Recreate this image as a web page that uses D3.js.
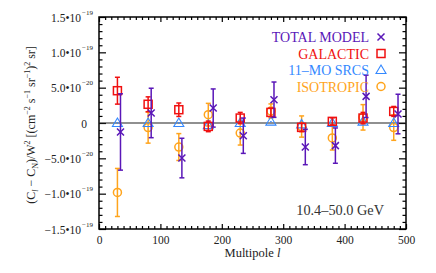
<!DOCTYPE html>
<html>
<head>
<meta charset="utf-8">
<script src="https://cdn.jsdelivr.net/npm/d3@7"></script>
<style>
  body { margin: 0; background: #fff; }
  text { font-family: "Liberation Serif", "DejaVu Serif", serif; }
</style>
</head>
<body>
<script>
// values in units of 1e-20 (cm^-2 s^-1 sr^-1)^2 sr
var UNIT = 1e-20;

var ellTotal = [35, 85, 135, 186, 235, 285, 336, 385, 435, 487];
var ellBin   = [30, 80, 130, 178, 230, 280, 330, 380, 430, 480];

var totalModel = [-1.27, 1.42, -4.96, 2.12, -1.8, 3.3, -3.4, -3.2, 3.77, 1.27];
var totalErr   = [5.4, 3.5, 2.8, 2.7, 2.5, 2.5, 2.5, 2.5, 3.0, 2.8];
var galactic   = [4.57, 2.65, 1.88, -0.48, 0.7, 1.5, -0.62, 0.23, 0.7, 1.64];
var galErr     = [1.9, 1.05, 0.95, 0.75, 0.8, 0.6, 0.6, 0.5, 0.8, 0.7];
var sources    = [0, 0, 0, -0.3, 0, 0.2, -0.2, 0, 0.2, 0];
var srcErr     = [0.1, 0.1, 0.1, 0.1, 0.1, 0.1, 0.1, 0.1, 0.1, 0.1];
var isotropic  = [-9.83, -0.65, -3.4, 1.18, -1.42, 1.7, -0.5, -2.12, 0.8, -0.65];
var isoErr     = [3.4, 2.2, 1.9, 1.6, 1.7, 1.0, 1.5, 1.7, 1.8, 1.8];

var xTicks = [0, 100, 200, 300, 400, 500];
var yTicks = [-15, -10, -5, 0, 5, 10, 15];
var yTickLabels = [['\u22121.5\u202210', '\u221219'], ['\u22121.0\u202210', '\u221219'], ['\u22125.0\u202210', '\u221220'],
                   ['0', ''], ['5.0\u202210', '\u221220'], ['1.0\u202210', '\u221219'], ['1.5\u202210', '\u221219']];

var legendLabels = ['TOTAL MODEL', 'GALACTIC', '11\u2013MO SRCS', 'ISOTROPIC'];
var energyLabel = '10.4\u201350.0 GeV';

var colors = { total: '#5a17b8', gal: '#f01010', src: '#3388ff', iso: '#ffa41c' };

var W = 436, H = 273;
var margin = {top: 17, right: 30, bottom: 44, left: 99};

var svg = d3.select('body').append('svg')
  .attr('width', W).attr('height', H)
  .attr('xmlns', 'http://www.w3.org/2000/svg');

var x = d3.scaleLinear().domain([0, 500]).range([margin.left, W - margin.right]);
var y = d3.scaleLinear().domain([-15, 15]).range([H - margin.bottom, margin.top]);

// minor ticks
var xMinor = d3.range(0, 501, 10).filter(function(d){ return d % 100 !== 0; });
var yMinor = d3.range(-15, 16, 1).filter(function(d){ return d % 5 !== 0; });

function tickStyle(g) {
  g.select('.domain').remove();
  g.selectAll('line').attr('stroke', '#000').attr('stroke-width', 1.2);
}

svg.append('g').attr('transform', 'translate(0,' + y.range()[0] + ')')
  .call(d3.axisTop(x).tickValues(xMinor).tickSize(3).tickFormat('')).call(tickStyle);
svg.append('g').attr('transform', 'translate(0,' + y.range()[1] + ')')
  .call(d3.axisBottom(x).tickValues(xMinor).tickSize(3).tickFormat('')).call(tickStyle);
svg.append('g').attr('transform', 'translate(0,' + y.range()[1] + ')')
  .call(d3.axisBottom(x).tickValues(xTicks).tickSize(5).tickFormat('')).call(tickStyle);

// bottom major with labels
var xAxis = svg.append('g').attr('transform', 'translate(0,' + y.range()[0] + ')')
  .call(d3.axisTop(x).tickValues(xTicks).tickSize(5).tickPadding(0).tickFormat(d3.format('d')))
  .call(tickStyle);
xAxis.selectAll('text')
  .attr('y', 15).attr('dy', 0)
  .attr('fill', '#222').style('font-size', '11.5px');

svg.append('g').attr('transform', 'translate(' + x.range()[0] + ',0)')
  .call(d3.axisRight(y).tickValues(yMinor).tickSize(3.5).tickFormat('')).call(tickStyle);
svg.append('g').attr('transform', 'translate(' + x.range()[1] + ',0)')
  .call(d3.axisLeft(y).tickValues(yMinor).tickSize(3.5).tickFormat('')).call(tickStyle);
svg.append('g').attr('transform', 'translate(' + x.range()[1] + ',0)')
  .call(d3.axisLeft(y).tickValues(yTicks).tickSize(7).tickFormat('')).call(tickStyle);

var yAxis = svg.append('g').attr('transform', 'translate(' + x.range()[0] + ',0)')
  .call(d3.axisRight(y).tickValues(yTicks).tickSize(7).tickFormat(''))
  .call(tickStyle);
yAxis.selectAll('.tick').each(function(d, i){
  var lab = yTickLabels[i];
  var t = d3.select(this).select('text')
    .attr('x', lab[1] ? -18 : -12).attr('dy', '0.35em')
    .attr('text-anchor', 'end').attr('fill', '#222')
    .style('font-size', '11.5px');
  t.append('tspan').text(lab[0]);
  if (lab[1]) {
    d3.select(this).append('text')
      .attr('x', -17).attr('y', -3)
      .attr('fill', '#222').style('font-size', '7px')
      .text(lab[1]);
  }
});

// frame
svg.append('rect')
  .attr('x', x.range()[0]).attr('y', y.range()[1])
  .attr('width', x.range()[1] - x.range()[0])
  .attr('height', y.range()[0] - y.range()[1])
  .attr('fill', 'none').attr('stroke', '#000').attr('stroke-width', 1.5);

// zero line
svg.append('line')
  .attr('x1', x(0)).attr('x2', x(500)).attr('y1', y(0)).attr('y2', y(0))
  .attr('stroke', '#222').attr('stroke-width', 1.2);

// error bars + markers
function errorBars(ells, vals, errs, color) {
  var g = svg.append('g').attr('stroke', color).attr('stroke-width', 1.5).attr('fill', 'none');
  ells.forEach(function(l, i){
    var cx = x(l), top = y(vals[i] + errs[i]), bot = y(vals[i] - errs[i]);
    g.append('line').attr('x1', cx).attr('x2', cx).attr('y1', top).attr('y2', bot);
    if (bot - top < 4) return; // too short for caps
    g.append('line').attr('x1', cx - 2.5).attr('x2', cx + 2.5).attr('y1', top).attr('y2', top);
    g.append('line').attr('x1', cx - 2.5).attr('x2', cx + 2.5).attr('y1', bot).attr('y2', bot);
  });
  return g;
}

function marker(g, kind, cx, cy) {
  if (kind === 'x') {
    g.append('path').attr('d', 'M' + (cx - 3.5) + ',' + (cy - 3.5) + 'L' + (cx + 3.5) + ',' + (cy + 3.5) +
      'M' + (cx - 3.5) + ',' + (cy + 3.5) + 'L' + (cx + 3.5) + ',' + (cy - 3.5));
  } else if (kind === 'sq') {
    g.append('rect').attr('x', cx - 4).attr('y', cy - 4).attr('width', 8).attr('height', 8);
  } else if (kind === 'tri') {
    g.append('path').attr('stroke-width', 1.1)
      .attr('d', 'M' + cx + ',' + (cy - 5) + 'L' + (cx + 5) + ',' + (cy + 3.5) + 'L' + (cx - 5) + ',' + (cy + 3.5) + 'Z');
  } else {
    g.append('circle').attr('cx', cx).attr('cy', cy).attr('r', 4);
  }
}

var series = [
  {ells: ellBin, vals: isotropic, errs: isoErr, color: colors.iso, kind: 'o'},
  {ells: ellBin, vals: sources, errs: srcErr, color: colors.src, kind: 'tri'},
  {ells: ellBin, vals: galactic, errs: galErr, color: colors.gal, kind: 'sq'},
  {ells: ellTotal, vals: totalModel, errs: totalErr, color: colors.total, kind: 'x'}
];

series.forEach(function(s){
  var g = errorBars(s.ells, s.vals, s.errs, s.color);
  s.ells.forEach(function(l, i){ marker(g, s.kind, x(l), y(s.vals[i])); });
});

// legend
var legColors = [colors.total, colors.gal, colors.src, colors.iso];
var legKinds = ['x', 'sq', 'tri', 'o'];
legendLabels.forEach(function(lab, i){
  var ly = 37 + i * 16.5;
  svg.append('text')
    .attr('x', 369).attr('y', ly + 5)
    .attr('text-anchor', 'end')
    .attr('fill', legColors[i])
    .style('font-size', '14px')
    .text(lab);
  var g = svg.append('g').attr('stroke', legColors[i]).attr('stroke-width', 1.5).attr('fill', 'none');
  marker(g, legKinds[i], 381, ly);
});

svg.append('text')
  .attr('x', 384).attr('y', 215)
  .attr('text-anchor', 'end').attr('fill', '#333')
  .style('font-size', '14.3px')
  .text(energyLabel);

// axis titles
var xt = svg.append('text')
  .attr('x', (x.range()[0] + x.range()[1]) / 2).attr('y', 257)
  .attr('text-anchor', 'middle').attr('fill', '#222')
  .style('font-size', '12.5px');
xt.append('tspan').text('Multipole ');
xt.append('tspan').style('font-style', 'italic').text('l');

var yt = svg.append('text')
  .attr('transform', 'translate(35,' + ((y.range()[0] + y.range()[1]) / 2 + 2) + ') rotate(-90)')
  .attr('text-anchor', 'middle').attr('fill', '#222')
  .style('font-size', '12px');
var parts = [
  ['(C', 0], ['l', 2, 'italic'], [' \u2212 C', 0], ['N', 2], [')/W', 0], ['2', -1],
  [' [(cm', 0], ['\u22122', -1], [' s', 0], ['\u22121', -1], [' sr', 0], ['\u22121', -1],
  [')', 0], ['2', -1], [' sr]', 0]
];
var shift = 0;
parts.forEach(function(p){
  var ts = yt.append('tspan').text(p[0]);
  var target = p[1] === 2 ? 3 : (p[1] === -1 ? -5 : 0);
  ts.attr('dy', target - shift);
  shift = target;
  if (p[1] !== 0) ts.style('font-size', '8px');
  if (p[2]) ts.style('font-style', 'italic');
});
</script>
</body>
</html>
